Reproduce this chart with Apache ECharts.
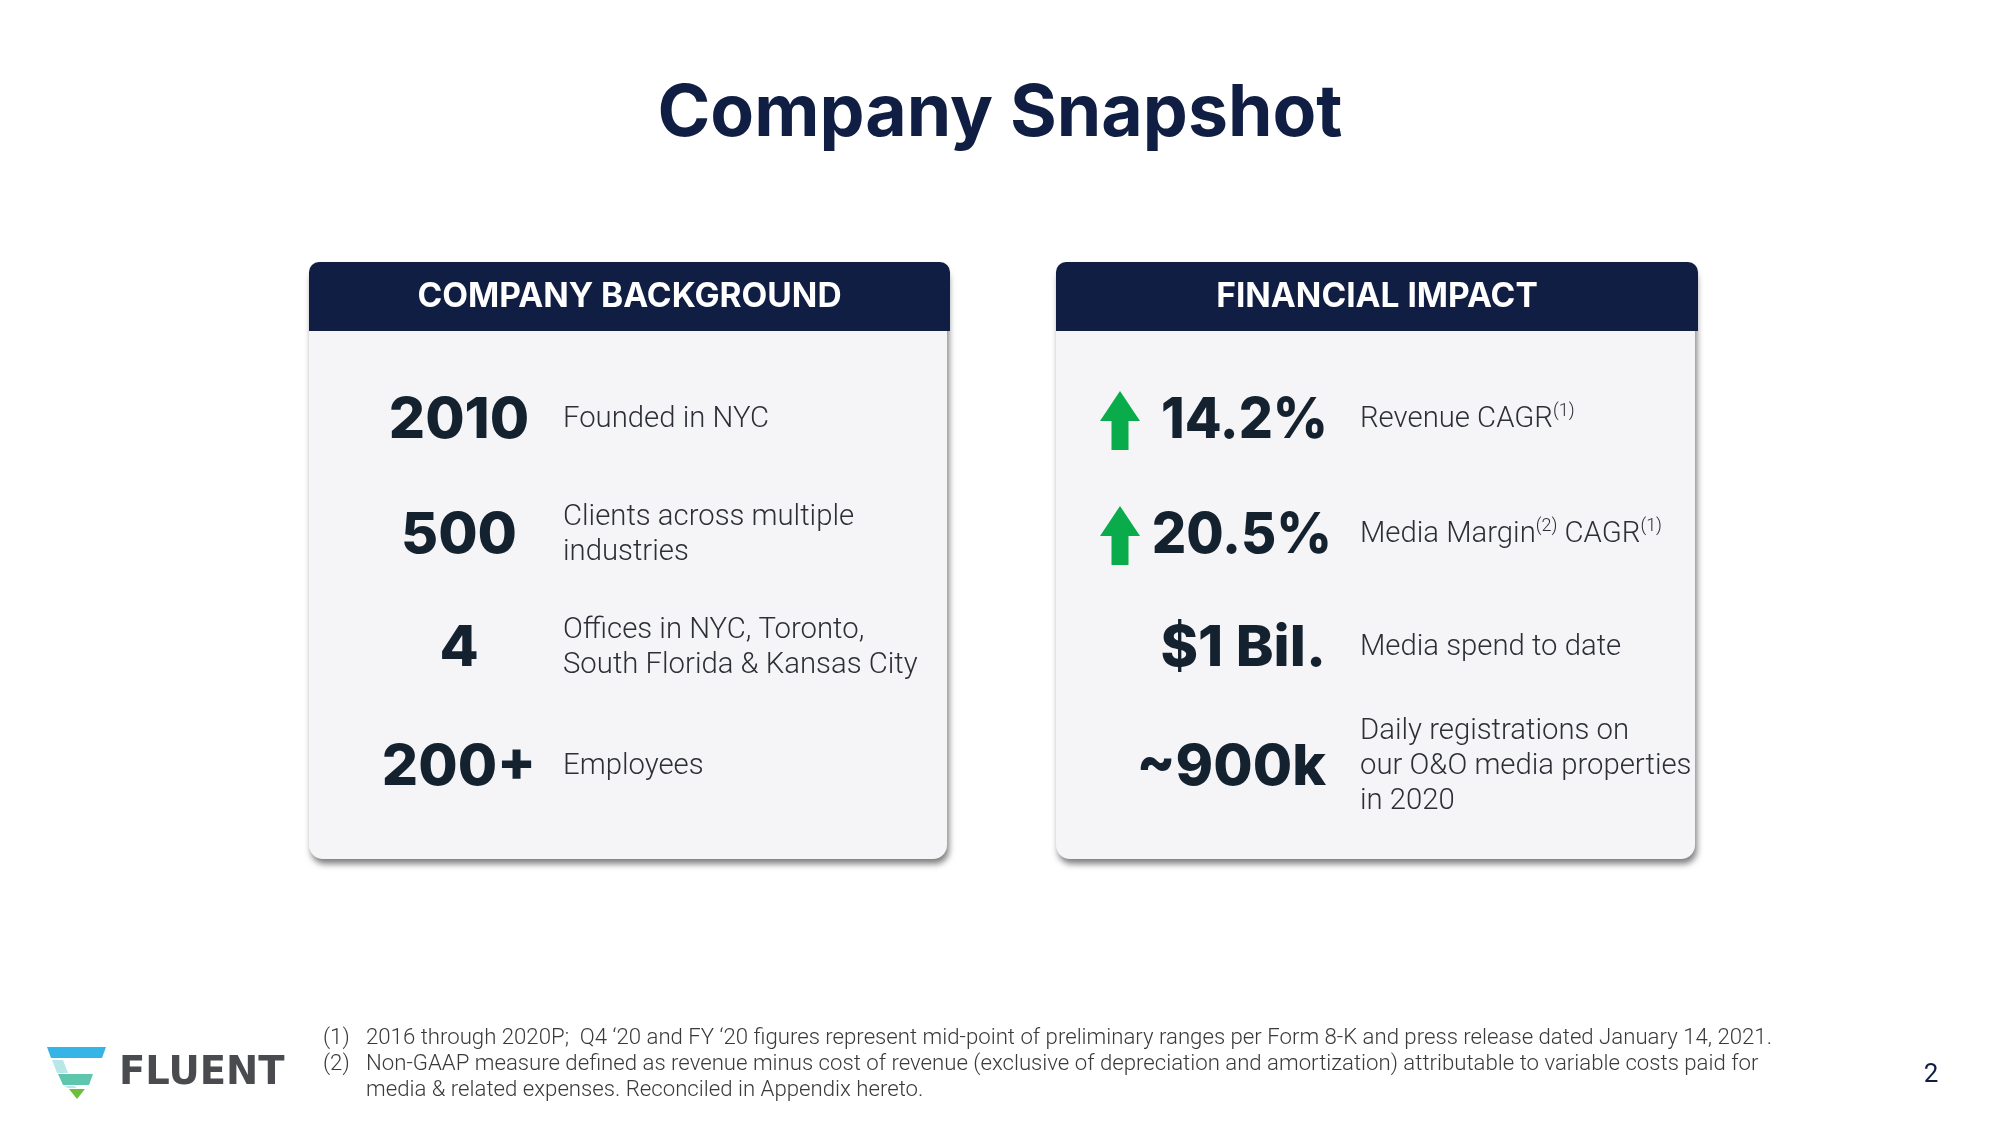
<!DOCTYPE html>
<html>
<head>
<meta charset="utf-8">
<script src="https://cdn.jsdelivr.net/npm/echarts@6/dist/echarts.min.js"></script>
<style>
html,body{margin:0;padding:0;background:#fff;}
#main{width:2000px;height:1126px;}
</style>
</head>
<body>
<div id="main"></div>
<script>
// ---- content ----
const pageTitle = 'Company Snapshot';
const cardTitles = ['COMPANY BACKGROUND', 'FINANCIAL IMPACT'];
const bgValues = ['2010', '500', '4', '200+'];
const bgLabels = [
  ['Founded in NYC'],
  ['Clients across multiple', 'industries'],
  ['Offices in NYC, Toronto,', 'South Florida & Kansas City'],
  ['Employees']
];
const finValues = ['14.2%', '20.5%', '$1 Bil.', '~900k'];
const finUp = [true, true, false, false];
// each line is a list of [text, isSuperscript]
const finLabels = [
  [[['Revenue CAGR', false], ['(1)', true]]],
  [[['Media Margin', false], ['(2)', true], [' CAGR', false], ['(1)', true]]],
  [[['Media spend to date', false]]],
  [[['Daily registrations on', false]], [['our O&O media properties', false]], [['in 2020', false]]]
];
const footnoteMarks = ['(1)', '(2)'];
const footnotes = [
  ['2016 through 2020P;  Q4 \u201820 and FY \u201820 figures represent mid-point of preliminary ranges per Form 8-K and press release dated January 14, 2021.'],
  ['Non-GAAP measure defined as revenue minus cost of revenue (exclusive of depreciation and amortization) attributable to variable costs paid for',
   'media & related expenses. Reconciled in Appendix hereto.']
];
const brand = 'FLUENT';
const pageNumber = '2';

// ---- layout / style ----
const NAVY = '#111e43';
const INK = '#14222f';
const BODY = '#2c2f36';
const GREEN = '#0aab4a';
const HEAD_FONT = 'Inter';
const rowY = [421, 536, 649, 768];
const finRight = [1328, 1332, 1326, 1326];
const finScale = [0.94, 0.95, 1.0, 1.0];
const cards = [{x: 309, w: 641}, {x: 1056, w: 642}];
const cardTop = 262, headH = 69, cardBottom = 859;

const els = [];
els.push({type: 'text', x: 1000, y: 114, style: {
  text: pageTitle, fill: NAVY, font: '700 71.5px ' + HEAD_FONT,
  textAlign: 'center', textVerticalAlign: 'middle'}});

cards.forEach((c, i) => {
  els.push({type: 'rect', shape: {x: c.x, y: cardTop, width: c.w - 3, height: cardBottom - cardTop, r: 14},
    style: {fill: '#f5f5f7', shadowBlur: 6, shadowColor: 'rgba(0,0,0,0.5)', shadowOffsetX: 2, shadowOffsetY: 5}});
  els.push({type: 'rect', shape: {x: c.x, y: cardTop, width: c.w, height: headH, r: [10, 10, 0, 0]},
    style: {fill: NAVY}});
  els.push({type: 'text', x: c.x + c.w / 2, y: cardTop + headH / 2, style: {
    text: cardTitles[i], fill: '#ffffff', font: '700 33.5px ' + HEAD_FONT,
    textAlign: 'center', textVerticalAlign: 'middle'}});
});

bgValues.forEach((v, i) => {
  els.push({type: 'text', x: 459, y: rowY[i], style: {
    text: v, fill: INK, font: '800 57px ' + HEAD_FONT, textAlign: 'center', textVerticalAlign: 'middle'}});
  els.push({type: 'text', x: 563, y: rowY[i] - 1, style: {
    text: bgLabels[i].join('\n'), fill: BODY, font: '300 29.3px Roboto', lineHeight: 35,
    textAlign: 'left', textVerticalAlign: 'middle'}});
});

const richStyles = {
  t: {fontFamily: 'Roboto', fontWeight: 300, fontSize: 29.3, lineHeight: 35, fill: BODY, color: BODY},
  s: {fontFamily: 'Roboto', fontWeight: 300, fontSize: 18, lineHeight: 22, verticalAlign: 'top', fill: BODY, color: BODY}
};
finValues.forEach((v, i) => {
  els.push({type: 'text', x: finRight[i], y: rowY[i], scaleX: finScale[i], style: {
    text: v, fill: INK, font: '800 57px ' + HEAD_FONT, textAlign: 'right', textVerticalAlign: 'middle'}});
  if (finUp[i]) {
    const cx = 1120, top = rowY[i] - 30, bot = rowY[i] + 29, hw = 20, sw = 8.5, hh = 30;
    els.push({type: 'polygon', shape: {points: [
      [cx, top], [cx + hw, top + hh], [cx + sw, top + hh], [cx + sw, bot],
      [cx - sw, bot], [cx - sw, top + hh], [cx - hw, top + hh]]}, style: {fill: GREEN}});
  }
  const txt = finLabels[i].map(line => line.map(seg => '{' + (seg[1] ? 's' : 't') + '|' + seg[0] + '}').join('')).join('\n');
  els.push({type: 'text', x: 1360, y: rowY[i] - 1, style: {
    text: txt, rich: richStyles, textAlign: 'left', textVerticalAlign: 'middle'}});
});

// footnotes
let fy = 1038;
footnotes.forEach((lines, i) => {
  els.push({type: 'text', x: 323, y: fy, style: {text: footnoteMarks[i], fill: '#3a3a3a',
    font: '300 22.2px Roboto', textAlign: 'left', textVerticalAlign: 'middle'}});
  lines.forEach(l => {
    els.push({type: 'text', x: 366, y: fy, style: {text: l, fill: '#3a3a3a',
      font: '300 22.2px Roboto', textAlign: 'left', textVerticalAlign: 'middle'}});
    fy += 26;
  });
});

els.push({type: 'text', x: 1931, y: 1075, style: {text: pageNumber, fill: NAVY,
  font: '400 26px Roboto', textAlign: 'center', textVerticalAlign: 'middle'}});

// logo mark
els.push({type: 'polygon', shape: {points: [[47, 1047], [106, 1047], [102, 1058], [51, 1058]]}, style: {fill: '#35b4e8'}});
els.push({type: 'polygon', shape: {points: [[52, 1060], [63, 1060], [68, 1073], [57, 1073]]}, style: {fill: '#b9e6e6'}});
els.push({type: 'polygon', shape: {points: [[58, 1074], [93, 1074], [89, 1085], [63, 1085]]}, style: {fill: '#5ec6ad'}});
els.push({type: 'polygon', shape: {points: [[64, 1086], [74, 1086], [77, 1088], [68, 1088]]}, style: {fill: '#b9e6e6'}});
els.push({type: 'polygon', shape: {points: [[69, 1089], [85, 1089], [77, 1099]]}, style: {fill: '#6cbf3c'}});
els.push({type: 'text', x: 119, y: 1074, style: {text: brand, fill: '#4a4b4f',
  font: '700 38.5px "DejaVu Sans"', textAlign: 'left', textVerticalAlign: 'middle'}});

const chart = echarts.init(document.getElementById('main'), null, {renderer: 'canvas'});
chart.setOption({backgroundColor: '#ffffff', animation: false, graphic: {elements: els}});
</script>
</body>
</html>
